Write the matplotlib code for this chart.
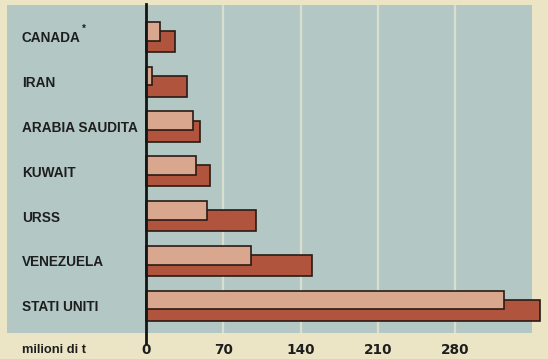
import matplotlib
matplotlib.use("Agg")
import matplotlib.pyplot as plt
from matplotlib.patches import Rectangle
from matplotlib.lines import Line2D

categories = ["CANADA", "IRAN", "ARABIA SAUDITA", "KUWAIT", "URSS", "VENEZUELA", "STATI UNITI"]
light_values = [13, 5, 43, 45, 55, 95, 324]
dark_values = [26, 37, 49, 58, 100, 150, 357]
xticks = [0, 70, 140, 210, 280]
unit_label = "milioni di t"

W, H = 548, 359
fig = plt.figure(figsize=(W / 100, H / 100), dpi=100)
fig.patch.set_facecolor("#ebe5c6")

def fx(px):
    return px / W

def fy(py):
    return 1 - py / H

# blue panel
fig.add_artist(Rectangle((fx(7), fy(333)), fx(532) - fx(7), fy(5) - fy(333),
                         transform=fig.transFigure, facecolor="#b3c8c4",
                         edgecolor="none", zorder=0))

ax_left, ax_right = 146, 548
ax_top, ax_bot = 5, 333
ax = fig.add_axes([fx(ax_left), fy(ax_bot), fx(ax_right) - fx(ax_left), fy(ax_top) - fy(ax_bot)])
ax.set_facecolor("none")
for s in ax.spines.values():
    s.set_visible(False)

scale = 1.104  # px per unit
ax.set_xlim(0, (ax_right - ax_left) / scale)
pitch = 44.8
ax.set_ylim((ax_bot - 37) / pitch, (ax_top - 37) / pitch)

# grid lines
for t in xticks[1:]:
    ax.axvline(t, color="#d9dfcf", lw=1.6, zorder=1)

ys = list(range(len(categories)))
ax.barh([y + 0.10 for y in ys], dark_values, height=0.47, color="#b1543e",
        edgecolor="#2a1a14", lw=1.2, zorder=2, clip_on=False)
ax.barh([y - 0.13 for y in ys], light_values, height=0.42, color="#d9a68e",
        edgecolor="#2a1a14", lw=1.2, zorder=3, clip_on=False)

ax.set_yticks(ys)
ax.set_yticklabels(categories)
ax.tick_params(axis="y", length=0, pad=(ax_left - 22) * 0.72)
for lab in ax.get_yticklabels():
    lab.set_ha("left")
    lab.set_family("Liberation Sans")
    lab.set_fontweight("bold")
    lab.set_fontsize(9.8)
    lab.set_color("#1e1e1e")

ax.set_xticks([])

# asterisk on CANADA
ax.text((82 - 146) / scale, (29 - 37) / pitch, "*", fontsize=7, fontweight="bold",
        color="#1e1e1e", ha="left", va="center", family="Liberation Sans")

# x tick labels below
for t in xticks:
    ax.text(t, (350 - 37) / pitch, str(t), ha="center", va="center",
            fontsize=9.8, fontweight="bold", family="DejaVu Sans",
            color="#1e1e1e", clip_on=False)

fig.text(fx(22), fy(350), unit_label, ha="left", va="center", fontsize=9.3,
         fontweight="bold", family="Liberation Sans", color="#1e1e1e")

# axis line
fig.add_artist(Line2D([fx(146), fx(146)], [fy(4), fy(343)], color="#151515",
                      lw=2.0, transform=fig.transFigure, zorder=5))

fig.savefig("out.png", dpi=100, facecolor=fig.get_facecolor())
